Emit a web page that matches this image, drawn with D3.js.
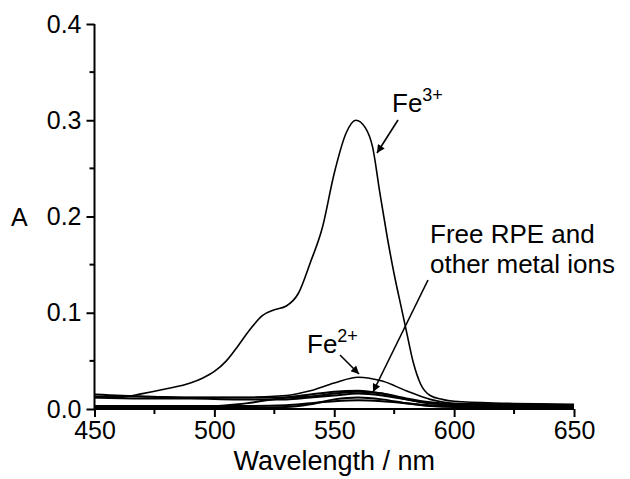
<!DOCTYPE html>
<html>
<head>
<meta charset="utf-8">
<script src="https://cdn.jsdelivr.net/npm/d3@7"></script>
<style>
  body { margin: 0; background: #fff; }
  text { font-family: "Liberation Sans", Arial, sans-serif; fill: #000; }
</style>
</head>
<body>
<div id="chart"></div>
<script>
// espectros (nm, absorvância)
var wlFe3 = [450,460,470,480,490,495,500,505,510,515,520,525,530,535,540,545,550,555,559,563,566,569,572,575,578,580,583,586,590,595,600,620,650];
var absFe3 = [0.012,0.012,0.016,0.021,0.027,0.032,0.039,0.050,0.066,0.083,0.097,0.103,0.107,0.120,0.152,0.188,0.245,0.287,0.300,0.292,0.272,0.225,0.180,0.140,0.105,0.082,0.048,0.026,0.014,0.010,0.008,0.006,0.005];

var wl = [450,470,490,510,530,540,550,560,570,580,590,600,625,650];
var absFe2 = [0.013,0.013,0.012,0.012,0.014,0.019,0.027,0.033,0.029,0.019,0.010,0.006,0.005,0.004];
var absFree1 = [0.015,0.013,0.012,0.012,0.012,0.013,0.016,0.018,0.016,0.011,0.007,0.005,0.005,0.004];
var absFree2 = [0.012,0.011,0.011,0.010,0.010,0.012,0.014,0.016,0.014,0.010,0.006,0.005,0.004,0.004];
var absFree3 = [0.002,0.002,0.002,0.005,0.012,0.015,0.018,0.019,0.016,0.010,0.006,0.005,0.004,0.004];
var absFree4 = [0.001,0.001,0.001,0.001,0.002,0.005,0.010,0.012,0.010,0.006,0.003,0.002,0.002,0.002];
var absFree5 = [0.003,0.003,0.003,0.003,0.004,0.006,0.008,0.009,0.008,0.006,0.004,0.003,0.003,0.003];

var xTicks = [450,500,550,600,650];
var yTicks = [0.0,0.1,0.2,0.3,0.4];

var width = 630, height = 479;

var x = d3.scaleLinear().domain([450,650]).range([94.5,574]);
var y = d3.scaleLinear().domain([0,0.4]).range([409,24]);

var svg = d3.select('#chart').append('svg')
    .attr('width', width)
    .attr('height', height);

// seta
svg.append('defs').append('marker')
    .attr('id', 'seta')
    .attr('viewBox', '0 0 10 10')
    .attr('refX', 10).attr('refY', 5)
    .attr('markerWidth', 11).attr('markerHeight', 8)
    .attr('markerUnits', 'userSpaceOnUse')
    .attr('orient', 'auto')
    .append('path')
    .attr('d', 'M0,0 L10,5 L0,10 Z')
    .attr('fill', '#000');

var line = d3.line()
    .x(function (d) { return x(d[0]); })
    .y(function (d) { return y(d[1]); })
    .curve(d3.curveMonotoneX);

// curvas de baixo (RPE livre e outros iões)
var baixas = [absFree1, absFree2, absFree3, absFree4, absFree5];
baixas.forEach(function (serie) {
    svg.append('path')
        .datum(wl.map(function (w, i) { return [w, serie[i]]; }))
        .attr('d', line)
        .attr('fill', 'none')
        .attr('stroke', '#000')
        .attr('stroke-width', 2);
});

svg.append('path')
    .datum(wl.map(function (w, i) { return [w, absFe2[i]]; }))
    .attr('d', line)
    .attr('fill', 'none')
    .attr('stroke', '#000')
    .attr('stroke-width', 1.6);

svg.append('path')
    .datum(wlFe3.map(function (w, i) { return [w, absFe3[i]]; }))
    .attr('d', line)
    .attr('fill', 'none')
    .attr('stroke', '#000')
    .attr('stroke-width', 1.6);

// eixos
var xAxis = svg.append('g')
    .attr('transform', 'translate(0,409)')
    .call(d3.axisBottom(x).tickValues(xTicks).tickSize(8).tickPadding(4).tickFormat(d3.format('d')));
xAxis.append('g').selectAll('line')
    .data([475,525,575,625]).enter().append('line')
    .attr('x1', function (d) { return x(d); }).attr('x2', function (d) { return x(d); })
    .attr('y1', 0).attr('y2', 5).attr('stroke', '#000').attr('stroke-width', 2);

var yAxis = svg.append('g')
    .attr('transform', 'translate(94.5,0)')
    .call(d3.axisLeft(y).tickValues(yTicks).tickSize(8).tickPadding(5).tickFormat(d3.format('.1f')));
yAxis.append('g').selectAll('line')
    .data([0.05,0.15,0.25,0.35]).enter().append('line')
    .attr('y1', function (d) { return y(d); }).attr('y2', function (d) { return y(d); })
    .attr('x1', 0).attr('x2', -5).attr('stroke', '#000').attr('stroke-width', 2);

[xAxis, yAxis].forEach(function (ax) {
    ax.select('.domain').attr('stroke', '#000').attr('stroke-width', 2);
    ax.selectAll('.tick line').attr('stroke', '#000').attr('stroke-width', 2);
    ax.selectAll('.tick text').style('font-size', '25px').attr('fill', '#000')
        .style('font-family', '"Liberation Sans", Arial, sans-serif');
});
xAxis.select('.domain').attr('d', 'M' + x(450) + ',0H' + x(650));
yAxis.select('.domain').attr('d', 'M0,' + y(0) + 'V' + y(0.4));

svg.append('text')
    .attr('x', x(550)).attr('y', 470)
    .attr('text-anchor', 'middle')
    .style('font-size', '27px')
    .text('Wavelength / nm');

svg.append('text')
    .attr('x', 11).attr('y', 226)
    .style('font-size', '25px')
    .text('A');

// anotações
function rotulo(px, py, base, sup) {
    var t = svg.append('text').attr('x', px).attr('y', py).style('font-size', '26px');
    t.append('tspan').text(base);
    t.append('tspan').attr('dy', -11).style('font-size', '18px').text(sup);
}
rotulo(392, 112, 'Fe', '3+');
rotulo(307, 353, 'Fe', '2+');

svg.append('text').attr('x', 430).attr('y', 243).style('font-size', '26px').text('Free RPE and');
svg.append('text').attr('x', 430).attr('y', 273).style('font-size', '26px').text('other metal ions');

var setas = [
    [398, 120, 377, 153],
    [340, 355, 359, 374],
    [428, 280, 373, 392]
];
setas.forEach(function (s) {
    svg.append('line')
        .attr('x1', s[0]).attr('y1', s[1]).attr('x2', s[2]).attr('y2', s[3])
        .attr('stroke', '#000').attr('stroke-width', 1.6)
        .attr('marker-end', 'url(#seta)');
});
</script>
</body>
</html>
